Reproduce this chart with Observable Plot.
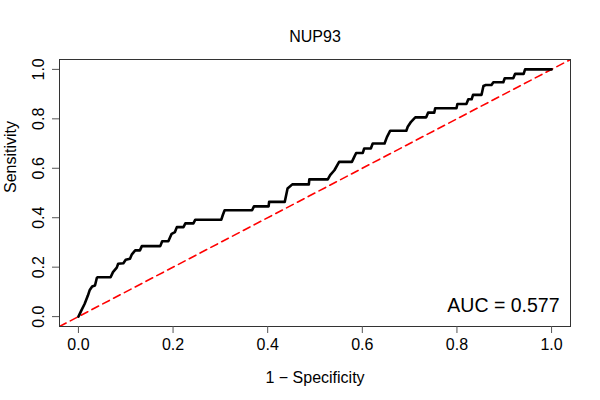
<!DOCTYPE html>
<html>
<head>
<meta charset="utf-8">
<script src="https://cdn.jsdelivr.net/npm/d3@7"></script>
<script src="https://cdn.jsdelivr.net/npm/@observablehq/plot@0.6"></script>
<style>
  html, body { margin: 0; padding: 0; background: #fff; }
  #chart { width: 600px; height: 400px; }
</style>
</head>
<body>
<div id="chart"></div>
<script>
// ROC curve points (1 - specificity, sensitivity)
const fpr = [0, 0.006, 0.013, 0.020, 0.024, 0.029, 0.035, 0.039, 0.040, 0.068,
  0.073, 0.081, 0.084, 0.095, 0.100, 0.109, 0.113, 0.120, 0.130, 0.134,
  0.173, 0.177, 0.190, 0.197, 0.204, 0.208, 0.222, 0.226, 0.243, 0.247,
  0.302, 0.305, 0.309, 0.367, 0.371, 0.402, 0.403, 0.436, 0.442, 0.452,
  0.487, 0.488, 0.527, 0.532, 0.541, 0.551, 0.578, 0.583, 0.587, 0.601,
  0.604, 0.618, 0.622, 0.647, 0.652, 0.659, 0.693, 0.696, 0.703, 0.712,
  0.735, 0.739, 0.752, 0.754, 0.799, 0.801, 0.820, 0.824, 0.831, 0.834,
  0.852, 0.856, 0.861, 0.873, 0.877, 0.898, 0.901, 0.919, 0.923, 0.941,
  0.944, 1.0];
const tpr = [0, 0.024, 0.051, 0.085, 0.108, 0.122, 0.126, 0.157, 0.159, 0.159,
  0.180, 0.198, 0.214, 0.216, 0.230, 0.234, 0.252, 0.268, 0.268, 0.285,
  0.285, 0.305, 0.305, 0.335, 0.342, 0.362, 0.362, 0.377, 0.377, 0.392,
  0.392, 0.410, 0.430, 0.430, 0.446, 0.446, 0.464, 0.464, 0.518, 0.535,
  0.535, 0.555, 0.555, 0.572, 0.592, 0.626, 0.626, 0.646, 0.662, 0.662,
  0.680, 0.680, 0.700, 0.700, 0.726, 0.752, 0.752, 0.768, 0.788, 0.806,
  0.806, 0.825, 0.825, 0.843, 0.843, 0.860, 0.860, 0.879, 0.879, 0.897,
  0.897, 0.933, 0.937, 0.937, 0.948, 0.948, 0.964, 0.964, 0.982, 0.982,
  1.0, 1.0];
const ticks = [0, 0.2, 0.4, 0.6, 0.8, 1.0];
const extent = [-0.04, 1.04];
const title = "NUP93";
const xLabel = "1 \u2212 Specificity";
const yLabel = "Sensitivity";
const aucText = "AUC = 0.577";

const points = fpr.map((x, i) => ({x, y: tpr[i]}));
const fmt = d3.format(".1f");

const chart = Plot.plot({
  width: 600,
  height: 400,
  marginLeft: 59,
  marginRight: 30,
  marginTop: 59,
  marginBottom: 74,
  style: {fontFamily: "Liberation Sans, Arial, sans-serif", fontSize: "16px", background: "#fff", color: "#000"},
  x: {domain: extent, ticks, tickFormat: fmt},
  y: {domain: extent, ticks},
  marks: [
    Plot.line(extent, {x: d => d, y: d => d, stroke: "#ff0000", strokeWidth: 1.6, strokeDasharray: "7.5,4.7", clip: true}),
    Plot.line(points, {x: "x", y: "y", stroke: "#000", strokeWidth: 2.6}),
    Plot.frame({stroke: "#333", strokeWidth: 1}),
    Plot.axisX({ticks, tickSize: 7, tickPadding: 5, tickFormat: fmt, fontSize: 16, label: null, stroke: "#555"}),
    Plot.axisY({ticks, tickSize: 7, tickFormat: () => "", label: null, stroke: "#555"}),
    Plot.text(ticks, {y: d => d, text: d => fmt(d), frameAnchor: "left", dx: -21, rotate: -90, fontSize: 16, textAnchor: "middle", lineAnchor: "middle"}),
    Plot.text([title], {frameAnchor: "top", dy: -23, fontSize: 16, lineAnchor: "middle"}),
    Plot.text([xLabel], {frameAnchor: "bottom", dy: 51, fontSize: 16, lineAnchor: "middle"}),
    Plot.text([yLabel], {frameAnchor: "left", dx: -49, rotate: -90, fontSize: 16, lineAnchor: "middle"}),
    Plot.text([aucText], {frameAnchor: "bottom-right", dx: -11, dy: -21, fontSize: 19.5, textAnchor: "end", lineAnchor: "middle"})
  ]
});
document.getElementById("chart").appendChild(chart);
</script>
</body>
</html>
